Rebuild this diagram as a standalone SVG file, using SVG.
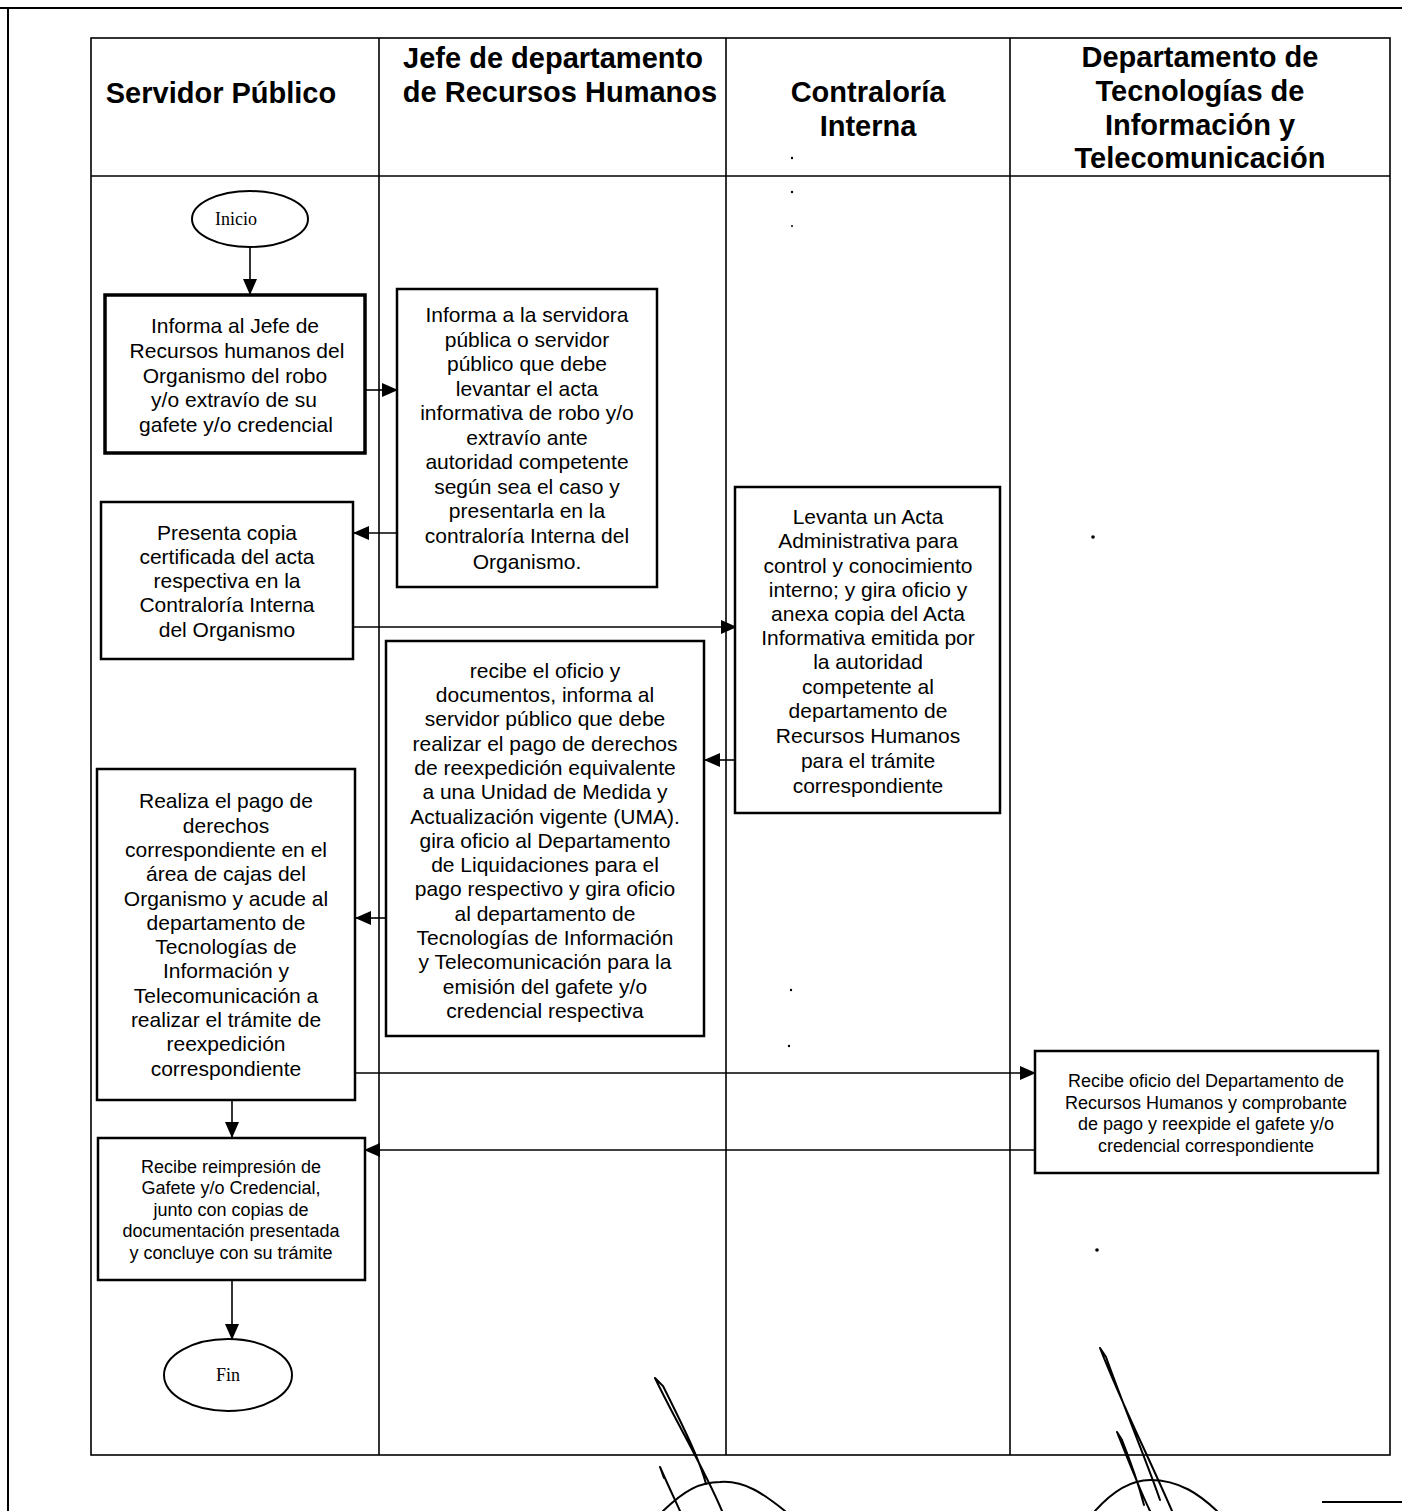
<svg xmlns="http://www.w3.org/2000/svg" width="1402" height="1511" viewBox="0 0 1402 1511">
<style>
.frame{fill:none;stroke:#000;stroke-width:2}
.lane{fill:none;stroke:#000;stroke-width:1.6}
.box{fill:#fff;stroke:#000;stroke-width:2.5}
.boxb{fill:#fff;stroke:#000;stroke-width:3.5}
.conn{fill:none;stroke:#000;stroke-width:1.6}
.hdr{font-family:"Liberation Sans",Arial,sans-serif;font-weight:bold;font-size:29px;text-anchor:middle;fill:#000}
.t{font-family:"Liberation Sans",Arial,sans-serif;font-size:21px;text-anchor:middle;fill:#000}
.ts{font-family:"Liberation Sans",Arial,sans-serif;font-size:18px;text-anchor:middle;fill:#000}
.term{font-family:"Liberation Serif","Times New Roman",serif;font-size:18px;text-anchor:middle;fill:#000}
.sig{fill:none;stroke:#000;stroke-width:2;stroke-linecap:round}
</style>
<defs>
<marker id="ah" markerWidth="16" markerHeight="14" refX="15" refY="7" orient="auto" markerUnits="userSpaceOnUse">
<path d="M0,0 L16,7 L0,14 Z" fill="#000"/>
</marker>
</defs>
<rect width="1402" height="1511" fill="#fff"/>
<!-- page frame -->
<g id="page">
<line class="frame" x1="0" y1="8" x2="1402" y2="8"/>
<line class="frame" x1="8" y1="8" x2="8" y2="1511"/>
<line class="frame" x1="1322" y1="1502" x2="1402" y2="1502"/>
</g>
<!-- swimlane table -->
<g id="lanes">
<rect class="lane" x="91" y="38" width="1299" height="1417"/>
<line class="lane" x1="91" y1="176" x2="1390" y2="176"/>
<line class="lane" x1="379" y1="38" x2="379" y2="1455"/>
<line class="lane" x1="726" y1="38" x2="726" y2="1455"/>
<line class="lane" x1="1010" y1="38" x2="1010" y2="1455"/>
<text class="hdr" x="221" y="103">Servidor Público</text>
<text class="hdr" x="553" y="68">Jefe de departamento</text>
<text class="hdr" x="560" y="102">de Recursos Humanos</text>
<text class="hdr" x="868" y="102">Contraloría</text>
<text class="hdr" x="868" y="136">Interna</text>
<text class="hdr" x="1200" y="67">Departamento de</text>
<text class="hdr" x="1200" y="101">Tecnologías de</text>
<text class="hdr" x="1200" y="135">Información y</text>
<text class="hdr" x="1200" y="168">Telecomunicación</text>
</g>
<!-- connectors -->
<g id="connectors">
<line class="conn" x1="250" y1="247" x2="250" y2="294" marker-end="url(#ah)"/>
<line class="conn" x1="365" y1="390" x2="397" y2="390" marker-end="url(#ah)"/>
<line class="conn" x1="397" y1="533" x2="354" y2="533" marker-end="url(#ah)"/>
<line class="conn" x1="353" y1="627" x2="736" y2="627" marker-end="url(#ah)"/>
<line class="conn" x1="735" y1="760" x2="705" y2="760" marker-end="url(#ah)"/>
<line class="conn" x1="386" y1="918" x2="356" y2="918" marker-end="url(#ah)"/>
<line class="conn" x1="355" y1="1073" x2="1035" y2="1073" marker-end="url(#ah)"/>
<line class="conn" x1="1035" y1="1150" x2="365" y2="1150" marker-end="url(#ah)"/>
<line class="conn" x1="232" y1="1100" x2="232" y2="1137" marker-end="url(#ah)"/>
<line class="conn" x1="232" y1="1280" x2="232" y2="1339" marker-end="url(#ah)"/>
</g>
<!-- nodes -->
<g id="inicio">
<ellipse cx="250" cy="219" rx="58" ry="28" fill="#fff" stroke="#000" stroke-width="2"/>
<text class="term" x="236" y="225">Inicio</text>
</g>
<g id="n1">
<rect class="boxb" x="105" y="295" width="260" height="158"/>
<text class="t" x="235" y="333">Informa al Jefe de</text>
<text class="t" x="237" y="358">Recursos humanos del</text>
<text class="t" x="235" y="383">Organismo del robo</text>
<text class="t" x="234" y="407">y/o extravío de su</text>
<text class="t" x="236" y="432">gafete y/o credencial</text>
</g>
<g id="n2">
<rect class="box" x="397" y="289" width="260" height="298"/>
<text class="t" x="527" y="322">Informa a la servidora</text>
<text class="t" x="527" y="347">pública o servidor</text>
<text class="t" x="527" y="371">público que debe</text>
<text class="t" x="527" y="396">levantar el acta</text>
<text class="t" x="527" y="420">informativa de robo y/o</text>
<text class="t" x="527" y="445">extravío ante</text>
<text class="t" x="527" y="469">autoridad competente</text>
<text class="t" x="527" y="494">según sea el caso y</text>
<text class="t" x="527" y="518">presentarla en la</text>
<text class="t" x="527" y="543">contraloría Interna del</text>
<text class="t" x="527" y="569">Organismo.</text>
</g>
<g id="n3">
<rect class="box" x="101" y="502" width="252" height="157"/>
<text class="t" x="227" y="540">Presenta copia</text>
<text class="t" x="227" y="564">certificada del acta</text>
<text class="t" x="227" y="588">respectiva en la</text>
<text class="t" x="227" y="612">Contraloría Interna</text>
<text class="t" x="227" y="637">del Organismo</text>
</g>
<g id="n4">
<rect class="box" x="735" y="487" width="265" height="326"/>
<text class="t" x="868" y="524">Levanta un Acta</text>
<text class="t" x="868" y="548">Administrativa para</text>
<text class="t" x="868" y="573">control y conocimiento</text>
<text class="t" x="868" y="597">interno; y gira oficio y</text>
<text class="t" x="868" y="621">anexa copia del Acta</text>
<text class="t" x="868" y="645">Informativa emitida por</text>
<text class="t" x="868" y="669">la autoridad</text>
<text class="t" x="868" y="694">competente al</text>
<text class="t" x="868" y="718">departamento de</text>
<text class="t" x="868" y="743">Recursos Humanos</text>
<text class="t" x="868" y="768">para el trámite</text>
<text class="t" x="868" y="793">correspondiente</text>
</g>
<g id="n5">
<rect class="box" x="386" y="641" width="318" height="395"/>
<text class="t" x="545" y="678">recibe el oficio y</text>
<text class="t" x="545" y="702">documentos, informa al</text>
<text class="t" x="545" y="726">servidor público que debe</text>
<text class="t" x="545" y="751">realizar el pago de derechos</text>
<text class="t" x="545" y="775">de reexpedición equivalente</text>
<text class="t" x="545" y="799">a una Unidad de Medida y</text>
<text class="t" x="545" y="824">Actualización vigente (UMA).</text>
<text class="t" x="545" y="848">gira oficio al Departamento</text>
<text class="t" x="545" y="872">de Liquidaciones para el</text>
<text class="t" x="545" y="896">pago respectivo y gira oficio</text>
<text class="t" x="545" y="921">al departamento de</text>
<text class="t" x="545" y="945">Tecnologías de Información</text>
<text class="t" x="545" y="969">y Telecomunicación para la</text>
<text class="t" x="545" y="994">emisión del gafete y/o</text>
<text class="t" x="545" y="1018">credencial respectiva</text>
</g>
<g id="n6">
<rect class="box" x="97" y="769" width="258" height="331"/>
<text class="t" x="226" y="808">Realiza el pago de</text>
<text class="t" x="226" y="833">derechos</text>
<text class="t" x="226" y="857">correspondiente en el</text>
<text class="t" x="226" y="881">área de cajas del</text>
<text class="t" x="226" y="906">Organismo y acude al</text>
<text class="t" x="226" y="930">departamento de</text>
<text class="t" x="226" y="954">Tecnologías de</text>
<text class="t" x="226" y="978">Información y</text>
<text class="t" x="226" y="1003">Telecomunicación a</text>
<text class="t" x="226" y="1027">realizar el trámite de</text>
<text class="t" x="226" y="1051">reexpedición</text>
<text class="t" x="226" y="1076">correspondiente</text>
</g>
<g id="n7">
<rect class="box" x="1035" y="1051" width="343" height="122"/>
<text class="ts" x="1206" y="1087">Recibe oficio del Departamento de</text>
<text class="ts" x="1206" y="1109">Recursos Humanos y comprobante</text>
<text class="ts" x="1206" y="1130">de pago y reexpide el gafete y/o</text>
<text class="ts" x="1206" y="1152">credencial correspondiente</text>
</g>
<g id="n8">
<rect class="box" x="98" y="1138" width="267" height="142"/>
<text class="ts" x="231" y="1173">Recibe  reimpresión de</text>
<text class="ts" x="231" y="1194">Gafete y/o Credencial,</text>
<text class="ts" x="231" y="1216">junto con copias de</text>
<text class="ts" x="231" y="1237">documentación presentada</text>
<text class="ts" x="231" y="1259">y concluye con su trámite</text>
</g>
<g id="fin">
<ellipse cx="228" cy="1375" rx="64" ry="36" fill="#fff" stroke="#000" stroke-width="2"/>
<text class="term" x="228" y="1381">Fin</text>
</g>
<!-- signatures and scan marks -->
<g id="marks">
<path class="sig" d="M655,1378 C675,1420 705,1470 722,1511 M655,1378 L663,1386 C680,1420 700,1460 706,1484"/>
<path class="sig" d="M660,1467 C668,1485 675,1500 680,1511 M660,1467 L664,1478"/>
<path class="sig" d="M663,1511 C685,1490 700,1482 720,1482 C745,1480 765,1495 785,1511"/>
<path class="sig" d="M1100,1348 C1120,1400 1150,1460 1172,1511 M1100,1348 L1106,1357 C1125,1410 1150,1470 1160,1500"/>
<path class="sig" d="M1117,1432 C1128,1460 1140,1490 1150,1511 M1117,1432 L1122,1440 C1132,1465 1140,1490 1144,1505"/>
<path class="sig" d="M1095,1511 C1112,1492 1130,1480 1150,1480 C1180,1480 1200,1495 1217,1511"/>
<circle cx="792" cy="158" r="1.2" fill="#000"/>
<circle cx="792" cy="192" r="1.2" fill="#000"/>
<circle cx="792" cy="226" r="1" fill="#000"/>
<circle cx="1093" cy="537" r="1.8" fill="#000"/>
<circle cx="791" cy="990" r="1.2" fill="#000"/>
<circle cx="789" cy="1046" r="1.2" fill="#000"/>
<circle cx="1097" cy="1250" r="1.8" fill="#000"/>
</g>
</svg>
